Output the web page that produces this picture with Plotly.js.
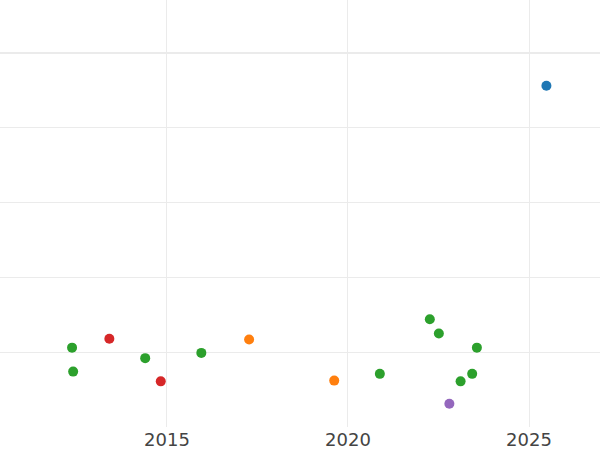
<!DOCTYPE html>
<html>
<head>
<meta charset="utf-8">
<script src="https://cdn.plot.ly/plotly-3.0.1.min.js"></script>
<style>html,body{margin:0;padding:0;background:#fff;}#chart{width:600px;height:450px;}</style>
</head>
<body>
<div id="chart"></div>
<script>
// Series (x = year, y = value; axis drawn reversed)
const seriesNames = ["A", "B", "C", "D", "E"];
const seriesColors = ["#1f77b4", "#ff7f0e", "#2ca02c", "#d62728", "#9467bd"];
const xA = [2025.48];
const yA = [0.44];
const xB = [2017.27, 2019.62];
const yB = [3.83, 4.38];
const xC = [2012.38, 2012.41, 2014.40, 2015.95, 2020.88, 2022.26, 2022.51, 2023.56, 2023.43, 2023.11];
const yC = [3.94, 4.26, 4.08, 4.01, 4.29, 3.56, 3.75, 3.94, 4.29, 4.39];
const xD = [2013.41, 2014.83];
const yD = [3.82, 4.39];
const xE = [2022.80];
const yE = [4.69];
const xTicks = [2015, 2020, 2025];

const xs = [xA, xB, xC, xD, xE];
const ys = [yA, yB, yC, yD, yE];
const traces = seriesNames.map((n, i) => ({
  type: "scatter", mode: "markers", name: n,
  x: xs[i], y: ys[i],
  marker: {color: seriesColors[i], size: 10},
  showlegend: false
}));

const layout = {
  width: 600, height: 450,
  margin: {l: 0, r: 0, t: 0, b: 23},
  paper_bgcolor: "#fff", plot_bgcolor: "#fff",
  font: {family: '"DejaVu Sans", sans-serif', color: "#444", size: 18},
  xaxis: {
    range: [2010.39, 2026.96],
    tickvals: xTicks, ticktext: xTicks.map(String),
    showgrid: true, gridcolor: "#ebebeb", gridwidth: 1,
    zeroline: false, showline: false, ticks: ""
  },
  yaxis: {
    range: [5, -0.705],
    dtick: 1, tick0: 0,
    showticklabels: false,
    showgrid: true, gridcolor: "#ebebeb", gridwidth: 1,
    zeroline: true, zerolinecolor: "#ebebeb", zerolinewidth: 2,
    showline: false, ticks: ""
  },
  showlegend: false
};

Plotly.newPlot("chart", traces, layout, {displayModeBar: false, staticPlot: true});
</script>
</body>
</html>
